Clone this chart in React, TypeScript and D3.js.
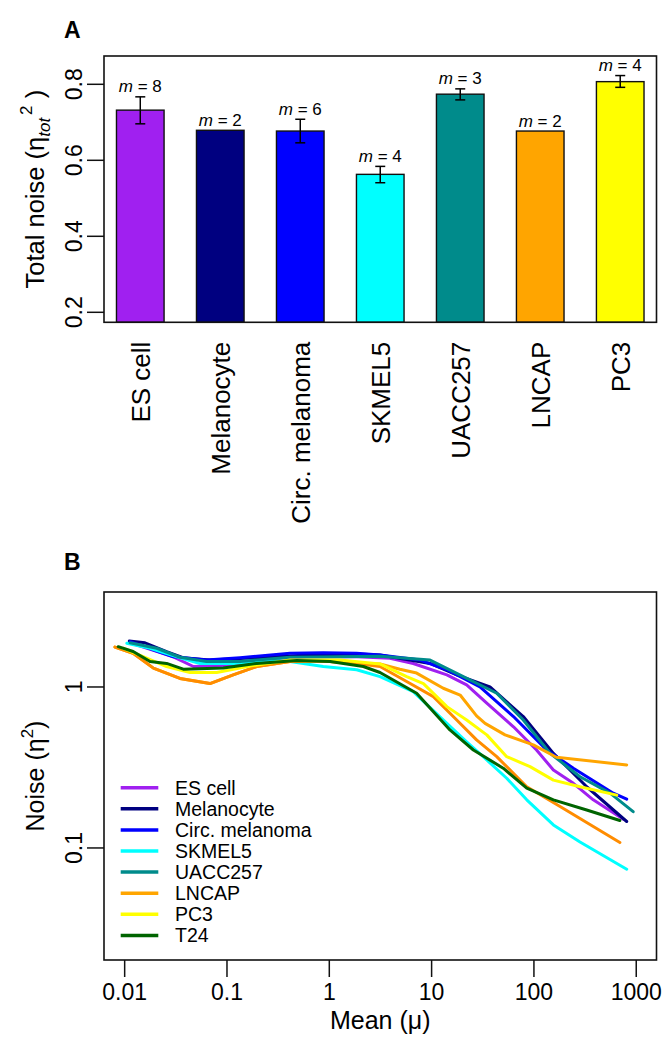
import React from "react";
import * as d3 from "d3";

// ---------- Panel A data ----------
const categories = ["ES cell", "Melanocyte", "Circ. melanoma", "SKMEL5", "UACC257", "LNCAP", "PC3"];
const barValues = [0.732, 0.679, 0.677, 0.563, 0.774, 0.677, 0.807];
const errLow: (number | null)[] = [0.696, null, 0.646, 0.541, 0.759, null, 0.792];
const errHigh: (number | null)[] = [0.767, null, 0.708, 0.584, 0.788, null, 0.823];
const mCounts = [8, 2, 6, 4, 3, 2, 4];
const barColors = ["#A020F0", "#000080", "#0000FF", "#00FFFF", "#008B8B", "#FFA500", "#FFFF00"];
const yTicksA = [0.2, 0.4, 0.6, 0.8];

// ---------- Panel B data ----------
const seriesNames = ["ES cell", "Melanocyte", "Circ. melanoma", "SKMEL5", "UACC257", "LNCAP", "LNCAP_b", "PC3", "T24"];
const seriesColors = ["#A020F0", "#000080", "#0000FF", "#00FFFF", "#008B8B", "#FFA500", "#FF8C00", "#FFFF00", "#006400"];

const esMean = [0.0113, 0.0299, 0.0469, 0.092, 0.195, 0.603, 1.85, 3.92, 6.61, 14.1, 22.0, 34.6, 63.1, 106, 155, 243, 380, 748];
const esNoise = [1.88, 1.54, 1.34, 1.35, 1.44, 1.54, 1.54, 1.51, 1.40, 1.19, 1.03, 0.793, 0.566, 0.406, 0.305, 0.252, 0.199, 0.151];

const melMean = [0.0111, 0.0158, 0.0257, 0.0372, 0.0676, 0.195, 0.603, 1.85, 3.13, 9.66, 17.6, 37.2, 78.7, 155, 328, 807];
const melNoise = [1.93, 1.88, 1.66, 1.52, 1.47, 1.52, 1.58, 1.60, 1.58, 1.40, 1.19, 1.00, 0.655, 0.387, 0.24, 0.146];

const circMean = [0.0113, 0.0299, 0.0631, 0.134, 0.413, 0.873, 1.85, 3.13, 7.71, 14.1, 29.7, 63.1, 133, 243, 597, 807];
const circNoise = [1.91, 1.54, 1.47, 1.52, 1.62, 1.63, 1.62, 1.58, 1.47, 1.28, 1.00, 0.655, 0.406, 0.313, 0.219, 0.201];

const skMean = [0.0105, 0.0177, 0.0324, 0.0544, 0.115, 0.244, 0.413, 0.873, 1.85, 3.13, 6.61, 14.1, 22.0, 34.6, 54.2, 85.1, 155, 282, 807];
const skNoise = [1.87, 1.74, 1.54, 1.40, 1.40, 1.47, 1.44, 1.34, 1.28, 1.16, 0.935, 0.594, 0.457, 0.352, 0.271, 0.199, 0.139, 0.109, 0.0738];

const uaccMean = [0.0113, 0.0206, 0.0347, 0.0631, 0.134, 0.413, 1.27, 3.13, 9.66, 20.4, 43.3, 78.7, 144, 282, 555, 933];
const uaccNoise = [1.88, 1.74, 1.53, 1.44, 1.44, 1.53, 1.54, 1.55, 1.47, 1.16, 0.914, 0.624, 0.387, 0.277, 0.219, 0.168];

const lncapMean = [0.00804, 0.0121, 0.0191, 0.0347, 0.0682, 0.115, 0.195, 0.413, 0.873, 1.85, 3.13, 4.9, 7.14, 13.0, 19.0, 27.5, 33.3, 52.2, 98.6, 166, 807];
const lncapNoise = [1.77, 1.62, 1.31, 1.13, 1.05, 1.19, 1.34, 1.44, 1.45, 1.40, 1.39, 1.29, 1.22, 0.982, 0.891, 0.661, 0.594, 0.504, 0.437, 0.366, 0.328];

const lncapBMean = [0.00804, 0.0121, 0.0191, 0.0347, 0.0682, 0.115, 0.195, 0.413, 0.873, 1.85, 3.13, 6.17, 10.4, 17.6, 27.5, 43.3, 85.1, 180, 692];
const lncapBNoise = [1.77, 1.62, 1.31, 1.13, 1.05, 1.19, 1.34, 1.44, 1.45, 1.40, 1.34, 1.05, 0.871, 0.624, 0.469, 0.369, 0.24, 0.181, 0.108];

const pc3Mean = [0.00968, 0.0164, 0.0257, 0.0435, 0.0794, 0.168, 0.413, 1.27, 3.13, 5.71, 8.32, 14.1, 22.0, 34.6, 54.2, 91.6, 155, 282, 646];
const pc3Noise = [1.74, 1.51, 1.34, 1.23, 1.23, 1.35, 1.47, 1.47, 1.39, 1.16, 1.05, 0.755, 0.624, 0.504, 0.369, 0.32, 0.264, 0.24, 0.213];

const t24Mean = [0.00865, 0.0121, 0.0177, 0.0257, 0.0374, 0.092, 0.195, 0.48, 1.02, 2.15, 3.13, 7.14, 15.1, 25.6, 50.1, 85.1, 155, 328, 692];
const t24Noise = [1.78, 1.66, 1.44, 1.40, 1.29, 1.31, 1.40, 1.46, 1.44, 1.34, 1.23, 0.914, 0.541, 0.406, 0.313, 0.235, 0.199, 0.172, 0.148];

const seriesMeans = [esMean, melMean, circMean, skMean, uaccMean, lncapMean, lncapBMean, pc3Mean, t24Mean];
const seriesNoises = [esNoise, melNoise, circNoise, skNoise, uaccNoise, lncapNoise, lncapBNoise, pc3Noise, t24Noise];

const legendNames = ["ES cell", "Melanocyte", "Circ. melanoma", "SKMEL5", "UACC257", "LNCAP", "PC3", "T24"];
const legendColors = ["#A020F0", "#000080", "#0000FF", "#00FFFF", "#008B8B", "#FFA500", "#FFFF00", "#006400"];

const xTicksB = [0.01, 0.1, 1, 10, 100, 1000];
const xTickLabelsB = ["0.01", "0.1", "1", "10", "100", "1000"];
const yTicksB = [0.1, 1];
const yTickLabelsB = ["0.1", "1"];

const FONT = "'Liberation Sans', Arial, Helvetica, sans-serif";

export default function App() {
  // Panel A geometry
  const aL = 104, aR = 656.5, aT = 56, aB = 322.3;
  const yA = d3.scaleLinear().domain([0.2, 0.8]).range([312.3, 84.3]);
  const xA = d3.scaleBand().domain(categories).range([aL, aR]).paddingInner(0.405).paddingOuter(0.156);
  const bw = xA.bandwidth();

  // Panel B geometry
  const bL = 104, bR = 656.5, bT = 592, bB = 960;
  const xB = d3.scaleLog().domain([Math.pow(10, -2.202), Math.pow(10, 3.198)]).range([bL, bR]);
  const yB = d3.scaleLog().domain([Math.pow(10, -1.696), Math.pow(10, 0.59)]).range([bB, bT]);
  const line = d3.line<[number, number]>().x((d) => xB(d[0])).y((d) => yB(d[1]));

  const tickLen = 17;
  const tickFs = 23;

  return (
    <svg width={670} height={1037} style={{ position: "absolute", left: 0, top: 0, background: "#fff" }} fontFamily={FONT}>
      <rect x={0} y={0} width={670} height={1037} fill="#fff" />
      {/* ===== Panel A ===== */}
      <text x={64} y={38} fontSize={23} fontWeight="bold">A</text>
      {categories.map((c, i) => {
        const x0 = xA(c)!;
        const top = yA(barValues[i]);
        const cx = x0 + bw / 2;
        const hi = errHigh[i];
        const lo = errLow[i];
        const labelTop = hi != null ? yA(hi) : top;
        return (
          <g key={c}>
            <rect x={x0} y={top} width={bw} height={aB - top} fill={barColors[i]} stroke="#111" strokeWidth={1.4} />
            {hi != null && lo != null && (
              <g stroke="#000" strokeWidth={1.5}>
                <line x1={cx} x2={cx} y1={yA(hi)} y2={yA(lo)} />
                <line x1={cx - 5} x2={cx + 5} y1={yA(hi)} y2={yA(hi)} />
                <line x1={cx - 5} x2={cx + 5} y1={yA(lo)} y2={yA(lo)} />
              </g>
            )}
            <text x={cx} y={labelTop - 4.5} fontSize={17} textAnchor="middle">
              <tspan fontStyle="italic">m</tspan>
              <tspan> = {mCounts[i]}</tspan>
            </text>
            <text transform={`translate(${cx + 9.5},341.7) rotate(-90)`} fontSize={26} textAnchor="end">{c}</text>
          </g>
        );
      })}
      <rect x={aL} y={aT} width={aR - aL} height={aB - aT} fill="none" stroke="#111" strokeWidth={1.6} />
      {yTicksA.map((t) => (
        <g key={t}>
          <line x1={aL - tickLen} x2={aL} y1={yA(t)} y2={yA(t)} stroke="#111" strokeWidth={1.5} />
          <text transform={`translate(81.7,${yA(t)}) rotate(-90)`} fontSize={tickFs} textAnchor="middle">{t.toFixed(1)}</text>
        </g>
      ))}
      <text transform={`translate(44,${(aT + aB) / 2}) rotate(-90)`} fontSize={25.5} textAnchor="middle">
        Total noise (η<tspan fontSize={17} fontStyle="italic" dy={6}>tot</tspan><tspan fontSize={17} dy={-18} dx={3}>2</tspan><tspan dy={12}> )</tspan>
      </text>

      {/* ===== Panel B ===== */}
      <text x={64} y={570} fontSize={23} fontWeight="bold">B</text>
      <defs>
        <clipPath id="clipB">
          <rect x={bL} y={bT} width={bR - bL} height={bB - bT} />
        </clipPath>
      </defs>
      <g clipPath="url(#clipB)">
        {seriesNames.map((n, i) => {
          const pts: [number, number][] = seriesMeans[i].map((m, j) => [m, seriesNoises[i][j]]);
          return <path key={n} d={line(pts) || ""} fill="none" stroke={seriesColors[i]} strokeWidth={3} strokeLinejoin="round" strokeLinecap="round" />;
        })}
      </g>
      <rect x={bL} y={bT} width={bR - bL} height={bB - bT} fill="none" stroke="#111" strokeWidth={1.6} />
      {xTicksB.map((t, i) => (
        <g key={t}>
          <line x1={xB(t)} x2={xB(t)} y1={bB} y2={bB + tickLen} stroke="#111" strokeWidth={1.5} />
          <text x={xB(t)} y={1000} fontSize={tickFs} textAnchor="middle">{xTickLabelsB[i]}</text>
        </g>
      ))}
      {yTicksB.map((t, i) => (
        <g key={t}>
          <line x1={bL - tickLen} x2={bL} y1={yB(t)} y2={yB(t)} stroke="#111" strokeWidth={1.5} />
          <text transform={`translate(81.7,${yB(t)}) rotate(-90)`} fontSize={tickFs} textAnchor="middle">{yTickLabelsB[i]}</text>
        </g>
      ))}
      <text x={(bL + bR) / 2} y={1029} fontSize={25} textAnchor="middle">Mean (μ)</text>
      <text transform={`translate(44,${(bT + bB) / 2}) rotate(-90)`} fontSize={25} textAnchor="middle">
        Noise (η<tspan fontSize={17} dy={-11}>2</tspan><tspan dy={11}>)</tspan>
      </text>
      {legendNames.map((n, i) => {
        const y = 787.7 + i * 21.1;
        return (
          <g key={n}>
            <line x1={120.7} x2={158.3} y1={y} y2={y} stroke={legendColors[i]} strokeWidth={3.5} />
            <text x={175} y={y + 7} fontSize={19.5}>{n}</text>
          </g>
        );
      })}
    </svg>
  );
}
